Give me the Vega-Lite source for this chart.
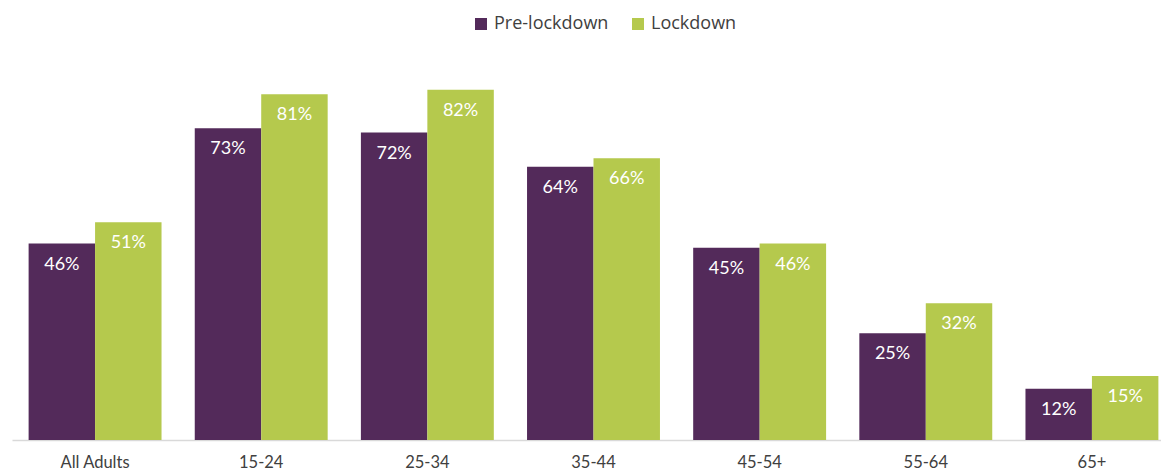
{
  "$schema": "https://vega.github.io/schema/vega-lite/v6.json",
  "width": 1161,
  "height": 427,
  "autosize": {"type": "none"},
  "padding": {"left": 0, "top": 13, "right": 0, "bottom": 31},
  "background": "white",
  "config": {"view": {"stroke": null}},
  "data": {
    "values": [
      {"group": "All Adults", "period": "Pre-lockdown", "value": 0.46},
      {"group": "All Adults", "period": "Lockdown", "value": 0.51},
      {"group": "15-24", "period": "Pre-lockdown", "value": 0.73},
      {"group": "15-24", "period": "Lockdown", "value": 0.81},
      {"group": "25-34", "period": "Pre-lockdown", "value": 0.72},
      {"group": "25-34", "period": "Lockdown", "value": 0.82},
      {"group": "35-44", "period": "Pre-lockdown", "value": 0.64},
      {"group": "35-44", "period": "Lockdown", "value": 0.66},
      {"group": "45-54", "period": "Pre-lockdown", "value": 0.45},
      {"group": "45-54", "period": "Lockdown", "value": 0.46},
      {"group": "55-64", "period": "Pre-lockdown", "value": 0.25},
      {"group": "55-64", "period": "Lockdown", "value": 0.32},
      {"group": "65+", "period": "Pre-lockdown", "value": 0.12},
      {"group": "65+", "period": "Lockdown", "value": 0.15}
    ]
  },
  "encoding": {
    "x": {
      "field": "group",
      "type": "nominal",
      "sort": ["All Adults", "15-24", "25-34", "35-44", "45-54", "55-64", "65+"],
      "scale": {"range": [12, 1175], "paddingInner": 0.2, "paddingOuter": 0.1},
      "axis": {
        "title": null,
        "labelAngle": 0,
        "ticks": false,
        "domainColor": "#d9d9d9",
        "domainWidth": 1.5,
        "labelFont": "Lato",
        "labelFontSize": 16.5,
        "labelColor": "#404040",
        "labelPadding": 14
      }
    },
    "xOffset": {
      "field": "period",
      "type": "nominal",
      "sort": ["Pre-lockdown", "Lockdown"],
      "scale": {"paddingInner": 0, "paddingOuter": 0}
    },
    "y": {
      "field": "value",
      "type": "quantitative",
      "scale": {"domain": [0, 1], "nice": false},
      "axis": null
    }
  },
  "layer": [
    {
      "mark": {"type": "bar"},
      "encoding": {
        "color": {
          "field": "period",
          "type": "nominal",
          "sort": ["Pre-lockdown", "Lockdown"],
          "scale": {"domain": ["Pre-lockdown", "Lockdown"], "range": ["#532A5A", "#B5C94D"]},
          "legend": {
            "title": null,
            "orient": "none",
            "direction": "horizontal",
            "legendX": 472,
            "legendY": 2,
            "symbolType": "square",
            "symbolSize": 144,
            "symbolStrokeWidth": 0,
            "symbolOpacity": 1,
            "labelFont": "Open Sans",
            "labelFontSize": 18,
            "labelColor": "#404040",
            "labelOffset": 4,
            "columnPadding": 20,
            "padding": 0
          }
        }
      }
    },
    {
      "mark": {
        "type": "text",
        "baseline": "middle",
        "align": "center",
        "dy": 21,
        "color": "white",
        "font": "Lato",
        "fontSize": 18
      },
      "encoding": {
        "text": {"field": "value", "type": "quantitative", "format": ".0%"},
        "detail": {"field": "period"}
      }
    }
  ]
}
